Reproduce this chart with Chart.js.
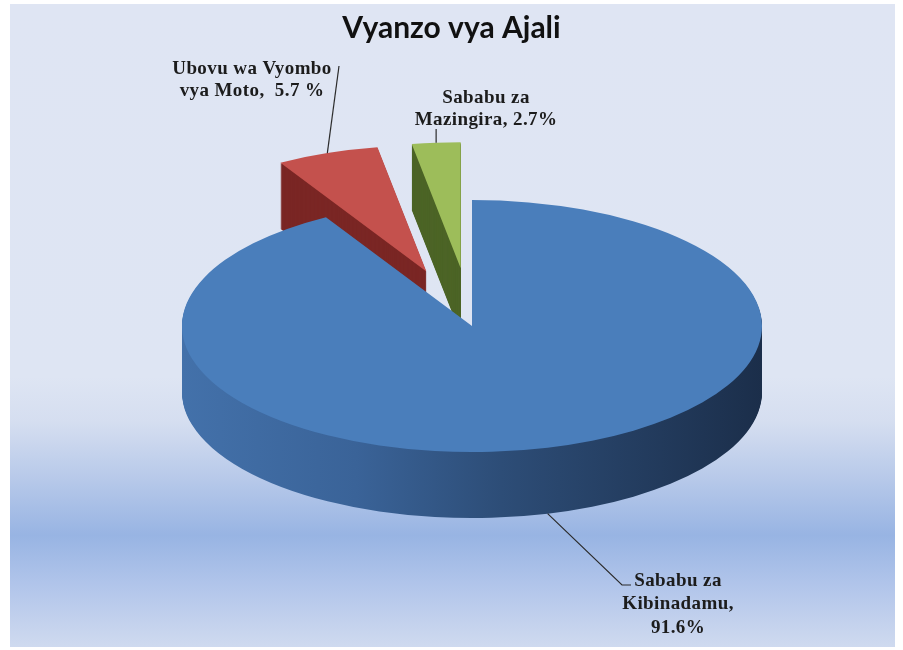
<!DOCTYPE html>
<html>
<head>
<meta charset="utf-8">
<title>Vyanzo vya Ajali</title>
<script src="https://cdn.jsdelivr.net/npm/chart.js@4.4.1/dist/chart.umd.min.js"></script>
<style>
    html, body { margin: 0; padding: 0; background: #fff; }
    #box { width: 903px; height: 650px; }
</style>
</head>
<body>
<div id="box"><canvas id="myChart" width="903" height="650"></canvas></div>
<script>
// data
var categories = ["Sababu za Kibinadamu", "Ubovu wa Vyombo vya Moto", "Sababu za Mazingira"];
var shares = [91.6, 5.7, 2.7];
var labelLines = [
    ["Sababu za", "Kibinadamu,", "91.6%"],
    ["Ubovu wa Vyombo", "vya Moto,  5.7 %"],
    ["Sababu za", "Mazingira, 2.7%"]
];

// look of the 3d pie (screen pixels)
var PIE = { cx: 472, cy: 326, rx: 290, ry: 126, depth: 66 };
var explode = [0, 0.46, 0.46];          // pulled out, as part of radius
var topColors = ["#4a7ebb", "#c4514d", "#9dbd5a"];
var sideColors = ["#2c4b74", "#7a2624", "#4c6426"];
var labelPos = [[678, 581, 23.5], [252, 69, 22], [486, 98, 22]];

function frame(chart) {
    var a = chart.getDatasetMeta(0).data[0];
    return { x: a.x, y: a.y, r: a.outerRadius, sx: PIE.rx / a.outerRadius, sy: PIE.ry / a.outerRadius };
}

function toPie(ctx, f) {
    ctx.translate(PIE.cx, PIE.cy);
    ctx.scale(f.sx, f.sy);
    ctx.translate(-f.x, -f.y);
}

function toScreen(f, ux, uy) {
    return [PIE.cx + (ux - f.x) * f.sx, PIE.cy + (uy - f.y) * f.sy];
}

function drawSlice(ctx, arc, i, f, dy, fill) {
    var mid = (arc.startAngle + arc.endAngle) / 2;
    var dist = explode[i] * f.r;
    ctx.save();
    ctx.translate(Math.cos(mid) * dist, Math.sin(mid) * dist + dy);
    var saved = arc.options;
    arc.options = Object.assign({}, saved, { backgroundColor: fill, borderWidth: 0 });
    arc.draw(ctx);
    arc.options = saved;
    ctx.restore();
}

function sideFill(ctx, f, i) {
    if (i != 0) return sideColors[i];
    var g = ctx.createLinearGradient(f.x - f.r, 0, f.x + f.r, 0);
    g.addColorStop(0, "#4371aa");
    g.addColorStop(0.3, "#3a6398");
    g.addColorStop(0.55, "#2d4d77");
    g.addColorStop(1, "#1b2e4a");
    return g;
}

var bgPlugin = {
    id: "bg",
    beforeDraw: function (chart) {
        var ctx = chart.ctx;
        ctx.save();
        ctx.fillStyle = "#ffffff";
        ctx.fillRect(0, 0, chart.width, chart.height);
        var g = ctx.createLinearGradient(0, 4, 0, 647);
        g.addColorStop(0, "#dfe5f3");
        g.addColorStop(0.58, "#dee5f3");
        g.addColorStop(0.65, "#d5def0");
        g.addColorStop(0.73, "#bacbea");
        g.addColorStop(0.826, "#98b4e3");
        g.addColorStop(0.9, "#b0c4ea");
        g.addColorStop(1, "#cfdaef");
        ctx.fillStyle = g;
        ctx.fillRect(10, 4, 885, 643);
        ctx.restore();
    }
};

var pie3d = {
    id: "pie3d",
    beforeDatasetDraw: function () {
        return false;
    },
    afterDatasetsDraw: function (chart) {
        var ctx = chart.ctx;
        var arcs = chart.getDatasetMeta(0).data;
        var f = frame(chart);
        var step = f.r / PIE.ry;
        var order = [1, 2, 0];
        ctx.save();
        toPie(ctx, f);
        order.forEach(function (i) {
            var fill = sideFill(ctx, f, i);
            for (var d = PIE.depth; d >= 1; d--) {
                drawSlice(ctx, arcs[i], i, f, d * step, fill);
            }
        });
        order.forEach(function (i) {
            drawSlice(ctx, arcs[i], i, f, 0, topColors[i]);
        });
        ctx.restore();
    },
    afterDraw: function (chart) {
        var ctx = chart.ctx;
        var arcs = chart.getDatasetMeta(0).data;
        var f = frame(chart);
        var step = f.r / PIE.ry;
        ctx.save();
        ctx.strokeStyle = "#2b2b2b";
        ctx.lineWidth = 1.2;
        arcs.forEach(function (arc, i) {
            var mid = (arc.startAngle + arc.endAngle) / 2;
            var rr = f.r * (1 + explode[i]);
            var p;
            ctx.beginPath();
            if (i == 0) {
                p = toScreen(f, f.x + Math.cos(mid) * f.r, f.y + Math.sin(mid) * f.r + PIE.depth * step);
                ctx.moveTo(p[0], p[1]);
                ctx.lineTo(labelPos[0][0] - 56, labelPos[0][1] + 4);
                ctx.lineTo(labelPos[0][0] - 47, labelPos[0][1] + 4);
            } else {
                p = toScreen(f, f.x + Math.cos(mid) * rr, f.y + Math.sin(mid) * rr);
                var top = i == 1 ? [339, 66] : [p[0], 129];
                ctx.moveTo(top[0], top[1]);
                ctx.lineTo(p[0], p[1]);
            }
            ctx.stroke();
        });
        ctx.fillStyle = "#1c1c1c";
        ctx.font = "bold 19px 'Liberation Serif'";
        ctx.letterSpacing = "0.4px";
        ctx.textAlign = "center";
        ctx.textBaseline = "middle";
        labelLines.forEach(function (lines, i) {
            lines.forEach(function (t, j) {
                ctx.fillText(t, labelPos[i][0], labelPos[i][1] + j * labelPos[i][2]);
            });
        });
        ctx.restore();
    }
};

var myChart = new Chart(document.getElementById("myChart"), {
    type: "pie",
    data: {
        labels: categories,
        datasets: [{
            data: shares,
            backgroundColor: topColors,
            borderWidth: 0,
            clip: false
        }]
    },
    options: {
        responsive: false,
        animation: false,
        events: [],
        layout: { padding: { top: 4, left: 150, right: 150, bottom: 10 } },
        plugins: {
            legend: { display: false },
            tooltip: { enabled: false },
            title: {
                display: true,
                text: "Vyanzo vya Ajali",
                color: "#111",
                font: { family: "Lato", size: 30, weight: "bold" },
                padding: { top: 6, bottom: 6 }
            }
        }
    },
    plugins: [bgPlugin, pie3d]
});
</script>
</body>
</html>
